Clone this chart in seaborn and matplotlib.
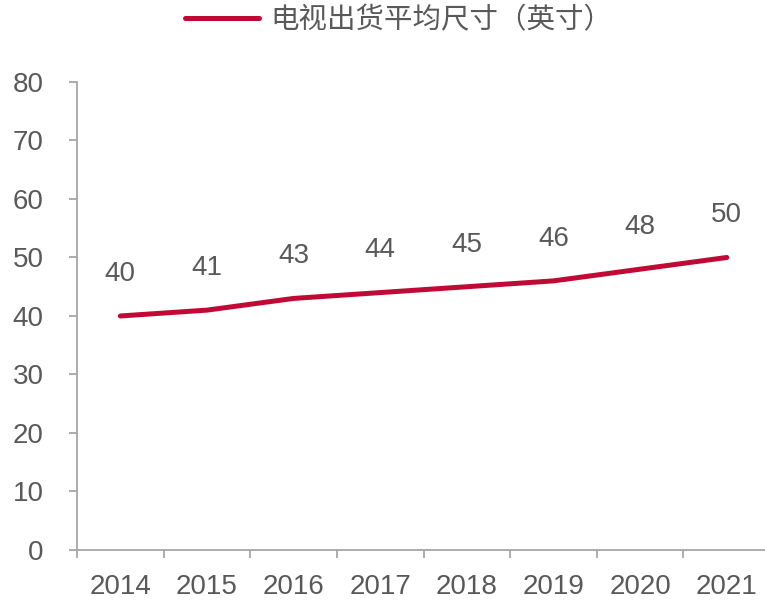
import matplotlib

matplotlib.use("Agg")

import matplotlib.pyplot as plt
import numpy as np
import pandas as pd
import seaborn as sns
from matplotlib.ticker import FixedLocator

years = ["2014", "2015", "2016", "2017", "2018", "2019", "2020", "2021"]
avg_size = [40, 41, 43, 44, 45, 46, 48, 50]
series_name = "电视出货平均尺寸（英寸）"

line_color = "#C00A35"
text_color = "#595959"
axis_color = "#A6A6A6"

sns.set_theme(style="ticks")
plt.rcParams["font.family"] = ["Liberation Sans", "Noto Sans CJK SC", "DejaVu Sans"]

df = pd.DataFrame({"pos": np.arange(len(years)), "size": avg_size, "series": series_name})

fig = plt.figure(figsize=(7.65, 6.01), dpi=100)
ax = fig.add_axes([0.1007, 0.0849, 0.906, 0.7787])

sns.lineplot(data=df, x="pos", y="size", hue="series", palette=[line_color],
             linewidth=3.6, ax=ax, legend=True)

for x, y in zip(df["pos"], df["size"]):
    ax.annotate(f"{y}", (x, y), xytext=(0, 21), textcoords="offset points",
                ha="center", va="bottom", fontsize=20, color=text_color)

ax.set_xlim(-0.5, len(years) - 0.5)
ax.set_ylim(0, 80)
ax.set_yticks(range(0, 81, 10))
ax.set_xticks(df["pos"])
ax.set_xticklabels(years)
ax.xaxis.set_minor_locator(FixedLocator(np.arange(-0.5, len(years), 1.0)))
ax.tick_params(axis="x", which="major", length=0, pad=17, labelsize=20, labelcolor=text_color)
ax.tick_params(axis="x", which="minor", length=6, width=1.3, color=axis_color, direction="out")
ax.tick_params(axis="y", length=6, width=1.3, color=axis_color, pad=18, labelsize=20,
               labelcolor=text_color)
ax.set_xlabel("")
ax.set_ylabel("")

for side in ["top", "right"]:
    ax.spines[side].set_visible(False)
for side in ["left", "bottom"]:
    ax.spines[side].set_color(axis_color)
    ax.spines[side].set_linewidth(1.3)

leg = ax.legend(loc="center", bbox_to_anchor=(0.521, 0.967), bbox_transform=fig.transFigure,
                frameon=False, handlelength=2.6, handletextpad=0.4,
                prop={"family": ["Noto Sans CJK SC"], "size": 20.5})
for t in leg.get_texts():
    t.set_color(text_color)
for h in leg.get_lines():
    h.set_linewidth(3.6)

fig.savefig("out.png", dpi=100)
